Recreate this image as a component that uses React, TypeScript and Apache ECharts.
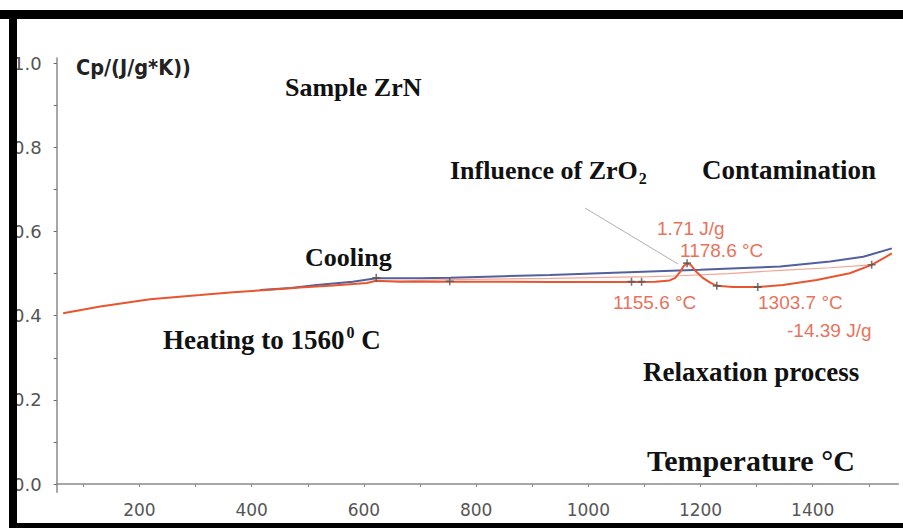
import React, { useEffect, useRef } from "react";
import * as echarts from "echarts";

// ---- data (temperature °C, Cp J/(g*K)) ----
const heatingCurve: number[][] = [
  [64, 0.406], [130, 0.422], [219, 0.439], [308, 0.449], [367, 0.456], [427, 0.461],
  [486, 0.467], [545, 0.472], [605, 0.478], [622, 0.483], [664, 0.481], [720, 0.481],
  [753, 0.481], [842, 0.481], [932, 0.480], [1021, 0.480], [1080, 0.480], [1120, 0.481],
  [1145, 0.484], [1155, 0.490], [1163, 0.503], [1170, 0.518], [1176, 0.525], [1183, 0.520],
  [1192, 0.505], [1204, 0.490], [1218, 0.478], [1229, 0.471], [1258, 0.468], [1302, 0.468],
  [1347, 0.473], [1407, 0.485], [1466, 0.501], [1505, 0.521], [1525, 0.536], [1541, 0.548],
];
const coolingCurve: number[][] = [
  [415, 0.461], [470, 0.466], [516, 0.473], [580, 0.481], [622, 0.489], [700, 0.489],
  [754, 0.490], [850, 0.494], [932, 0.497], [1020, 0.501], [1110, 0.505], [1199, 0.509],
  [1288, 0.514], [1342, 0.517], [1431, 0.529], [1490, 0.540], [1541, 0.560],
];
const baselineCurve: number[][] = [
  [622, 0.481], [754, 0.486], [932, 0.489], [1110, 0.493], [1163, 0.495], [1250, 0.500],
  [1342, 0.508], [1431, 0.514], [1505, 0.521],
];
const eventMarkers: number[][] = [
  [622, 0.490], [753, 0.482], [1077, 0.481], [1095, 0.481], [1176, 0.525],
  [1229, 0.471], [1302, 0.468], [1505, 0.521],
];

const xTickValues = [100, 200, 300, 400, 500, 600, 700, 800, 900, 1000, 1100, 1200, 1300, 1400, 1500];
const xLabelValues = [200, 400, 600, 800, 1000, 1200, 1400];
const yTickValues = [0, 0.1, 0.2, 0.3, 0.4, 0.5, 0.6, 0.7, 0.8, 0.9, 1.0];
const yLabelValues = [0, 0.2, 0.4, 0.6, 0.8, 1.0];

const yAxisTitle = "Cp/(J/g*K))";
const sampleLabel = "Sample ZrN";
const peakEnergyLabel = "1.71 J/g";
const peakTempLabel = "1178.6 °C";
const onsetLabel = "1155.6 °C";
const relaxTempLabel = "1303.7 °C";
const relaxEnergyLabel = "-14.39 J/g";

const SERIF = "'Liberation Serif', 'Times New Roman', serif";
const SANS = "'Liberation Sans', Arial, sans-serif";
const TICKFONT = "'DejaVu Sans', Verdana, sans-serif";

function measure(text: string, font: string): number {
  const c = document.createElement("canvas").getContext("2d");
  if (!c) return text.length * 10;
  c.font = font;
  return c.measureText(text).width;
}

function txt(text: string, x: number, y: number, size: number, opts: any = {}) {
  return {
    type: "text",
    z: 50,
    style: {
      text,
      x,
      y,
      fill: opts.fill || "#111",
      fontSize: size,
      fontFamily: opts.family || SERIF,
      fontWeight: opts.weight || "bold",
      align: "left",
      textAlign: "left",
      verticalAlign: "middle",
      textVerticalAlign: "middle",
    },
  };
}

export default function App() {
  const ref = useRef<HTMLDivElement>(null);

  useEffect(() => {
    if (!ref.current) return;
    const chart = echarts.init(ref.current, undefined, { renderer: "svg" });

    const red = "#e8735c";
    const infl = "Influence of ZrO";
    const inflW = measure(infl, `bold 26px ${SERIF}`);
    const heat = "Heating to 1560";
    const heatW = measure(heat, `bold 27px ${SERIF}`);
    const supW = measure("0", `bold 16px ${SERIF}`);

    const graphicEls: any[] = [
      // axis title
      txt(yAxisTitle, 76, 67, 21.5, { family: "'DejaVu Sans Condensed', 'DejaVu Sans', sans-serif", fill: "#222" }),
      // annotations
      txt(sampleLabel, 285, 87, 26),
      txt(infl, 450, 170, 26),
      txt("2", 450 + inflW + 1, 178, 16),
      txt("Contamination", 702, 170, 27),
      txt("Cooling", 305, 257, 26),
      txt(heat, 163, 340, 27),
      txt("0", 163 + heatW + 2, 332, 16),
      txt(" C", 163 + heatW + 2 + supW, 340, 27),
      txt("Relaxation process", 643, 372, 27),
      txt("Temperature °C", 647, 460, 30),
      txt(peakEnergyLabel, 657, 228, 19, { family: SANS, weight: "normal", fill: red }),
      txt(peakTempLabel, 680, 250, 19, { family: SANS, weight: "normal", fill: red }),
      txt(onsetLabel, 613, 302, 19, { family: SANS, weight: "normal", fill: red }),
      txt(relaxTempLabel, 758, 302, 19, { family: SANS, weight: "normal", fill: red }),
      txt(relaxEnergyLabel, 787, 330, 19, { family: SANS, weight: "normal", fill: red }),
      // leader line
      {
        type: "line",
        z: 40,
        shape: { x1: 585, y1: 208, x2: 678, y2: 264 },
        style: { stroke: "#b0b0b0", lineWidth: 1 },
      },
      // frame
      { type: "rect", z: 100, shape: { x: 0, y: 10, width: 903, height: 9 }, style: { fill: "#000" } },
      { type: "rect", z: 100, shape: { x: 9, y: 10, width: 8, height: 518 }, style: { fill: "#000" } },
      { type: "rect", z: 100, shape: { x: 9, y: 523, width: 894, height: 5 }, style: { fill: "#000" } },
    ];

    chart.setOption({
      animation: false,
      backgroundColor: "#ffffff",
      grid: {
        left: 56.7,
        right: 4.7,
        top: 58,
        bottom: 35.7,
        containLabel: false,
        outerBoundsMode: "none",
      },
      xAxis: {
        type: "value",
        min: 52.5,
        max: 1552.5,
        splitLine: { show: false },
        axisLine: { show: true, lineStyle: { color: "#8a8a8a", width: 1.5 } },
        axisTick: {
          show: true,
          customValues: xTickValues,
          length: 3,
          lineStyle: { color: "#8a8a8a", width: 1 },
        },
        axisLabel: {
          customValues: xLabelValues,
          formatter: (v: number) => String(Math.round(v)),
          color: "#555",
          fontSize: 17,
          fontFamily: TICKFONT,
          margin: 9,
        },
      },
      yAxis: {
        type: "value",
        min: -0.0197,
        max: 1.0126,
        splitLine: { show: false },
        axisLine: { show: true, lineStyle: { color: "#8a8a8a", width: 1.5 } },
        axisTick: {
          show: true,
          customValues: yTickValues,
          length: 3,
          lineStyle: { color: "#666", width: 1 },
        },
        axisLabel: {
          customValues: yLabelValues,
          formatter: (v: number) => v.toFixed(1),
          color: "#555",
          fontSize: 18,
          fontFamily: TICKFONT,
          margin: 15,
        },
      },
      graphic: { elements: graphicEls },
      series: [
        {
          name: "Baseline",
          type: "line",
          data: baselineCurve,
          symbol: "none",
          z: 2,
          lineStyle: { color: "#f4a394", width: 1.2 },
        },
        {
          name: "Cooling",
          type: "line",
          data: coolingCurve,
          symbol: "none",
          z: 3,
          lineStyle: { color: "#52609e", width: 2 },
        },
        {
          name: "Heating",
          type: "line",
          data: heatingCurve,
          symbol: "none",
          z: 4,
          lineStyle: { color: "#e8552f", width: 2 },
        },
        {
          name: "Events",
          type: "scatter",
          data: eventMarkers,
          z: 5,
          symbol: "path://M4,0H6V4H10V6H6V10H4V6H0V4H4Z",
          symbolSize: 8,
          itemStyle: { color: "#555" },
        },
      ],
    });

    return () => chart.dispose();
  }, []);

  return (
    <div
      ref={ref}
      style={{ position: "fixed", left: 0, top: 0, width: 903, height: 528, background: "#fff" }}
    />
  );
}
